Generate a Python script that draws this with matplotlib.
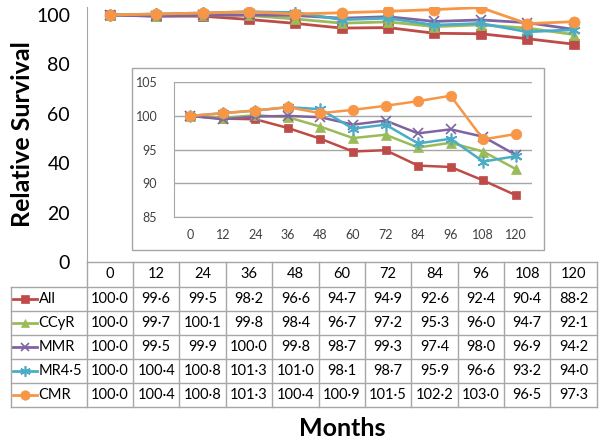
import matplotlib
matplotlib.use("Agg")
import matplotlib.pyplot as plt
import numpy as np
from matplotlib.lines import Line2D
from matplotlib.patches import Rectangle

plt.rcParams.update({"font.family": ["Lato", "DejaVu Sans"]})

# ---------------------------------------------------------------------------
# Data
# ---------------------------------------------------------------------------
months = [0, 12, 24, 36, 48, 60, 72, 84, 96, 108, 120]
series_names = ["All", "CCyR", "MMR", "MR4·5", "CMR"]
all_vals = [100.0, 99.6, 99.5, 98.2, 96.6, 94.7, 94.9, 92.6, 92.4, 90.4, 88.2]
ccyr_vals = [100.0, 99.7, 100.1, 99.8, 98.4, 96.7, 97.2, 95.3, 96.0, 94.7, 92.1]
mmr_vals = [100.0, 99.5, 99.9, 100.0, 99.8, 98.7, 99.3, 97.4, 98.0, 96.9, 94.2]
mr45_vals = [100.0, 100.4, 100.8, 101.3, 101.0, 98.1, 98.7, 95.9, 96.6, 93.2, 94.0]
cmr_vals = [100.0, 100.4, 100.8, 101.3, 100.4, 100.9, 101.5, 102.2, 103.0, 96.5, 97.3]
series_vals = [all_vals, ccyr_vals, mmr_vals, mr45_vals, cmr_vals]

colors = ["#BE4B48", "#9BBB59", "#8064A2", "#4BACC6", "#F79646"]
ASTERISK = (6, 2, 0)
markers = ["s", "^", "x", ASTERISK, "o"]
msizes = [6.5, 7, 7.5, 9, 8]

W, H = 602, 441
GRAY = "#A6A6A6"


def fx(px):
    return px / W


def fy(py):
    return 1 - py / H


def mew_for(m):
    return 1.2 if m in ("x", ASTERISK) else 0.5


def draw_series(ax, x, lw=2.0, scale=1.0):
    for vals, c, m, ms in zip(series_vals, colors, markers, msizes):
        ax.plot(x, vals, color=c, lw=lw, marker=m, ms=ms * scale,
                mfc=c, mec=c, mew=mew_for(m), solid_joinstyle="round")


fig = plt.figure(figsize=(W / 100, H / 100), dpi=100)

# ---------------------------------------------------------------------------
# Main axes
# ---------------------------------------------------------------------------
L, R = 86.7, 596.7
top_px, bot_px = 7, 262
ax = fig.add_axes([fx(L), fy(bot_px), fx(R - L), (bot_px - top_px) / H])
x = np.arange(len(months))
draw_series(ax, x)
ax.set_xlim(-0.5, len(months) - 0.5)
ax.set_ylim(0, 100 * (bot_px - top_px) / (bot_px - 15))
ax.set_yticks([0, 20, 40, 60, 80, 100])
ax.tick_params(axis="y", length=0, labelsize=14, pad=12)
ax.set_xticks([])
for s in ["top", "right", "bottom"]:
    ax.spines[s].set_visible(False)
ax.spines["left"].set_color(GRAY)

fig.text(fx(22), fy(134), "Relative Survival", rotation=90, fontsize=18,
         fontweight="bold", ha="center", va="center")

# ---------------------------------------------------------------------------
# Inset
# ---------------------------------------------------------------------------
fig.add_artist(Rectangle((fx(132), fy(250)), fx(544 - 132), (250 - 68) / H,
                         transform=fig.transFigure, facecolor="white",
                         edgecolor=GRAY, lw=1.0, zorder=3))
iax = fig.add_axes([fx(174), fy(216.7), fx(532 - 174), (216.7 - 82.3) / H],
                   zorder=4)
iax.set_facecolor("none")
draw_series(iax, x, lw=1.8, scale=0.95)
iax.set_xlim(-0.5, len(months) - 0.5)
iax.set_ylim(85, 105)
iax.set_yticks([85, 90, 95, 100, 105])
iax.set_xticks(x)
iax.set_xticklabels([str(m) for m in months])
iax.tick_params(length=0, labelsize=9, colors="#404040")
iax.tick_params(axis="x", pad=9)
iax.tick_params(axis="y", pad=12)
iax.yaxis.grid(True, color=GRAY, lw=1.0)
iax.set_axisbelow(True)
for s in ["top", "right"]:
    iax.spines[s].set_visible(False)
for s in ["left", "bottom"]:
    iax.spines[s].set_color(GRAY)

# ---------------------------------------------------------------------------
# Data table
# ---------------------------------------------------------------------------
tl = 11
col_w = (R - L) / len(months)
row0, row_h = 262, 24
hdr_bot = 286.7
n_rows = len(series_names)
tbot = hdr_bot + n_rows * row_h


def hline(y, x0, x1):
    fig.add_artist(Line2D([fx(x0), fx(x1)], [fy(y), fy(y)], color=GRAY, lw=1.0))


def vline(xp, y0, y1):
    fig.add_artist(Line2D([fx(xp), fx(xp)], [fy(y0), fy(y1)], color=GRAY, lw=1.0))


hline(row0, L, R)
for i in range(n_rows + 1):
    hline(hdr_bot + i * row_h, tl, R)
vline(tl, hdr_bot, tbot)
for j in range(len(months) + 1):
    vline(L + j * col_w, row0, tbot)

for j, m in enumerate(months):
    fig.text(fx(L + (j + 0.5) * col_w), fy((row0 + hdr_bot) / 2), str(m),
             fontsize=10.5, ha="center", va="center")

for i, (name, vals, c, m, ms) in enumerate(zip(series_names, series_vals,
                                               colors, markers, msizes)):
    yc = hdr_bot + (i + 0.5) * row_h
    fig.add_artist(Line2D([fx(13), fx(37)], [fy(yc), fy(yc)], color=c, lw=2.0))
    fig.add_artist(Line2D([fx(25)], [fy(yc)], marker=m, ms=ms * 0.85, color=c,
                          mfc=c, mec=c, mew=mew_for(m)))
    fig.text(fx(38.5), fy(yc), name, fontsize=10.5, ha="left", va="center")
    for j, v in enumerate(vals):
        fig.text(fx(L + (j + 0.5) * col_w), fy(yc),
                 f"{v:.1f}".replace(".", "·"), fontsize=10.5,
                 ha="center", va="center")

fig.text(fx(342), fy(428), "Months", fontsize=18, fontweight="bold",
         ha="center", va="center")

fig.savefig("out.png", dpi=100)
